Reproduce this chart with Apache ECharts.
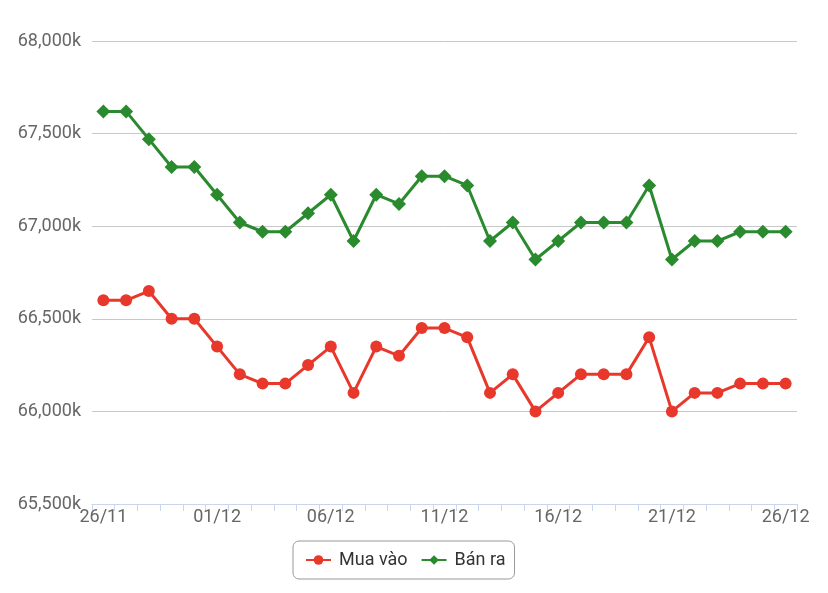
<!DOCTYPE html>
<html><head><meta charset="utf-8">
<script src="https://cdn.jsdelivr.net/npm/echarts@6/dist/echarts.min.js"></script>
<style>html,body{margin:0;padding:0;background:#fff}#c{width:828px;height:593px}</style>
</head><body><div id="c"></div>
<script>
const categories = ['26/11','27/11','28/11','29/11','30/11','01/12','02/12','03/12','04/12','05/12','06/12','07/12','08/12','09/12','10/12','11/12','12/12','13/12','14/12','15/12','16/12','17/12','18/12','19/12','20/12','21/12','22/12','23/12','24/12','25/12','26/12'];
const muaVao = [66600,66600,66650,66500,66500,66350,66200,66150,66150,66250,66350,66100,66350,66300,66450,66450,66400,66100,66200,66000,66100,66200,66200,66200,66400,66000,66100,66100,66150,66150,66150];
const banRa = [67620,67620,67470,67320,67320,67170,67020,66970,66970,67070,67170,66920,67170,67120,67270,67270,67220,66920,67020,66820,66920,67020,67020,67020,67220,66820,66920,66920,66970,66970,66970];
const yTicks = {min:65500, max:68000, interval:500};

const chart = echarts.init(document.getElementById('c'));
const fmt = v => v.toLocaleString('en-US') + 'k';
chart.setOption({
  animation:false,
  textStyle:{fontFamily:'Roboto'},
  grid:{left:92,right:31,top:41,bottom:89,containLabel:false},
  xAxis:{type:'category',data:categories,boundaryGap:true,
    axisLine:{lineStyle:{color:'#ccd6eb',width:1}},
    axisTick:{show:true,interval:0,length:7,lineStyle:{color:'#ccd6eb'}},
    axisLabel:{interval:4,color:'#666',fontSize:18,margin:4}},
  yAxis:{type:'value',min:yTicks.min,max:yTicks.max,interval:yTicks.interval,
    axisLine:{show:false},axisTick:{show:false},
    axisLabel:{color:'#666',fontSize:18,margin:11,formatter:fmt},
    splitLine:{lineStyle:{color:'#c8c8c8',width:1}}},
  legend:{bottom:14,left:293,borderColor:'#999',borderWidth:1,borderRadius:6,
    padding:[10,9,10,12],itemGap:13,itemWidth:25,itemHeight:12,
    textStyle:{color:'#333',fontSize:18,padding:[0,0,0,3]}},
  series:[
    {name:'Mua vào',type:'line',data:muaVao,symbol:'circle',symbolSize:12,
     lineStyle:{color:'#e8382c',width:3},itemStyle:{color:'#e8382c'}},
    {name:'Bán ra',type:'line',data:banRa,symbol:'diamond',symbolSize:14,
     lineStyle:{color:'#2a8a2e',width:3},itemStyle:{color:'#2a8a2e'}}
  ]
});
</script></body></html>
